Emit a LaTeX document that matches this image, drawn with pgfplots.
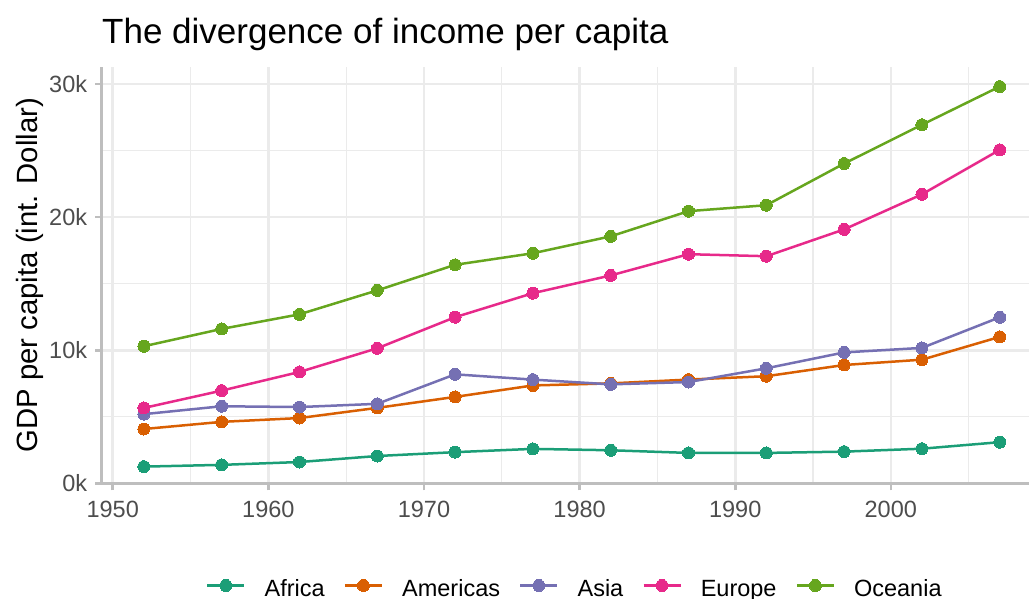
\documentclass[border=0pt]{standalone}
\usepackage{fontspec}
\setmainfont{Liberation Sans}
\usepackage{pgfplots}
\pgfplotsset{compat=1.18}
\definecolor{cAfr}{HTML}{1B9E77}
\definecolor{cAme}{HTML}{D95F02}
\definecolor{cAsi}{HTML}{7570B3}
\definecolor{cEur}{HTML}{E7298A}
\definecolor{cOce}{HTML}{66A61E}
\definecolor{gridc}{HTML}{EBEBEB}
\definecolor{axisc}{HTML}{BEBEBE}
\definecolor{tickc}{HTML}{4D4D4D}
\begin{document}
\begin{tikzpicture}[x=1pt,y=1pt]
\useasboundingbox (0,0) rectangle (1029,599);
\begin{axis}[
  at={(102pt,115.7pt)}, anchor=south west,
  scale only axis, width=927pt, height=416.3pt,
  xmin=1949.31, xmax=2008.88, ymin=0, ymax=31280,
  axis x line*=bottom, axis y line*=left,
  axis line style={color=axisc, line width=3pt, -},
  xtick={1950,1960,1970,1980,1990,2000},
  xticklabels={1950,1960,1970,1980,1990,2000},
  minor xtick={1955,1965,1975,1985,1995,2005},
  ytick={0,10000,20000,30000},
  yticklabels={0k,10k,20k,30k},
  minor ytick={5000,15000,25000},
  scaled y ticks=false,
  tick align=outside,
  major tick length=7pt, minor tick length=0pt,
  every tick/.style={color=axisc, line width=2.6pt},
  grid=both,
  major grid style={color=gridc, line width=2.6pt},
  minor grid style={color=gridc, line width=1.3pt},
  xticklabel style={font=\fontsize{23.5}{28}\selectfont, color=tickc, inner sep=0pt, anchor=north, yshift=-11pt},
  yticklabel style={font=\fontsize{23.5}{28}\selectfont, color=tickc, inner sep=0pt, anchor=east, xshift=-7.7pt},
  title={The divergence of income per capita},
  title style={at={(axis description cs:0,1)}, anchor=base west, yshift=17pt, inner sep=0pt, font=\fontsize{35}{40}\selectfont},
  ylabel={GDP per capita (int. Dollar)},
  ylabel style={at={(axis description cs:-0.0701,0.5)}, anchor=base, inner sep=0pt, font=\fontsize{29.3}{34}\selectfont},
  legend columns=5,
  legend style={at={(rel axis cs:0.509,0)}, anchor=center, yshift=-105.7pt, draw=none, fill=none, inner sep=0pt,
    font=\fontsize{23.5}{28}\selectfont, nodes={inner sep=0pt}, column sep=19pt},
  legend image code/.code={\draw[mark repeat=2,mark phase=2,#1] plot coordinates {(0pt,3.7pt) (18.5pt,3.7pt) (37pt,3.7pt)};},
  every axis plot/.append style={line width=2.5pt, mark=*, mark size=6pt},
]
\addplot[color=cAfr, mark options={fill=cAfr, draw=cAfr, line width=0pt}] coordinates {
(1952,1253) (1957,1385) (1962,1598) (1967,2050) (1972,2340) (1977,2586) (1982,2482) (1987,2283) (1992,2282) (1997,2379) (2002,2599) (2007,3089)};
\addlegendentry{Africa}
\addplot[color=cAme, mark options={fill=cAme, draw=cAme, line width=0pt}] coordinates {
(1952,4079) (1957,4616) (1962,4902) (1967,5668) (1972,6491) (1977,7352) (1982,7507) (1987,7793) (1992,8045) (1997,8889) (2002,9288) (2007,11003)};
\addlegendentry{Americas}
\addplot[color=cAsi, mark options={fill=cAsi, draw=cAsi, line width=0pt}] coordinates {
(1952,5195) (1957,5788) (1962,5729) (1967,5971) (1972,8187) (1977,7791) (1982,7434) (1987,7608) (1992,8640) (1997,9834) (2002,10174) (2007,12473)};
\addlegendentry{Asia}
\addplot[color=cEur, mark options={fill=cEur, draw=cEur, line width=0pt}] coordinates {
(1952,5661) (1957,6963) (1962,8365) (1967,10144) (1972,12480) (1977,14284) (1982,15618) (1987,17214) (1992,17062) (1997,19077) (2002,21712) (2007,25054)};
\addlegendentry{Europe}
\addplot[color=cOce, mark options={fill=cOce, draw=cOce, line width=0pt}] coordinates {
(1952,10298) (1957,11599) (1962,12696) (1967,14495) (1972,16417) (1977,17284) (1982,18555) (1987,20448) (1992,20894) (1997,24024) (2002,26939) (2007,29810)};
\addlegendentry{Oceania}
\end{axis}
\end{tikzpicture}
\end{document}
